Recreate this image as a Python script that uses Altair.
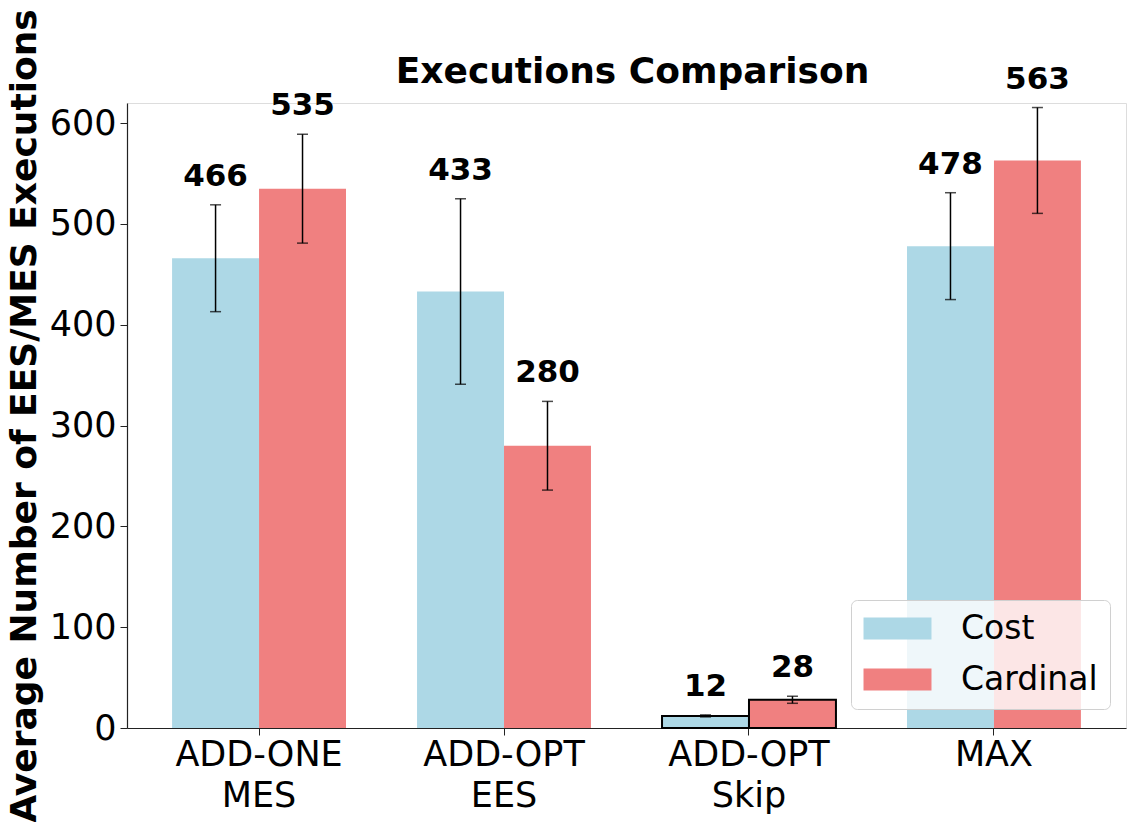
import altair as alt
import pandas as pd

categories = ["ADD-ONE\nMES", "ADD-OPT\nEES", "ADD-OPT\nSkip", "MAX"]
series = ["Cost", "Cardinal"]
cost_values = [466, 433, 12, 478]
cost_errors = [53, 92, 1, 53]
cardinal_values = [535, 280, 28, 563]
cardinal_errors = [54, 44, 3.5, 52.5]
colors = ["#ADD8E6", "#F08080"]
outlined_category = "ADD-OPT\nSkip"

rows = []
for i, c in enumerate(categories):
    for s, vals, errs in (("Cost", cost_values, cost_errors), ("Cardinal", cardinal_values, cardinal_errors)):
        v = vals[i]
        e = errs[i]
        rows.append({"category": c, "series": s, "value": v, "lo": v - e, "hi": v + e,
                     "label": str(v), "outlined": c == outlined_category})
df = pd.DataFrame(rows)

FONT = "DejaVu Sans"

x_enc = alt.X("category:N", sort=categories,
              scale=alt.Scale(paddingInner=0.29, paddingOuter=0.184),
              axis=alt.Axis(title=None, labelAngle=0, labelFontSize=35, labelFont=FONT,
                            labelColor="black", labelPadding=2, labelLineHeight=41,
                            labelExpr="split(datum.label, '\\n')",
                            tickColor="#222", tickSize=7, domainColor="#222", domainWidth=1.2))
xoff = alt.XOffset("series:N", sort=series, scale=alt.Scale(paddingInner=0, paddingOuter=0))
y_scale = alt.Scale(domain=[0, 620], nice=False)

bars = alt.Chart(df).mark_bar().encode(
    x=x_enc,
    xOffset=xoff,
    y=alt.Y("value:Q", scale=y_scale,
            axis=alt.Axis(title="Average Number of EES/MES Executions", values=[0, 100, 200, 300, 400, 500, 600],
                          grid=False, labelFontSize=35, labelFont=FONT, labelColor="black",
                          labelPadding=4, tickColor="#222", tickSize=7, domainColor="#222",
                          domainWidth=1.2, titleFontSize=36, titleFont=FONT, titleFontWeight="bold",
                          titleColor="black", titlePadding=6)),
    color=alt.Color("series:N", sort=series,
                    scale=alt.Scale(domain=series, range=colors),
                    legend=alt.Legend(title=None, orient="none", legendX=724, legendY=497,
                                      labelFontSize=33, labelFont=FONT, labelColor="black",
                                      symbolType="M-3.09,-1L3.09,-1L3.09,1L-3.09,1Z",
                                      symbolSize=484, symbolStrokeWidth=0, symbolOffset=18,
                                      labelOffset=47, rowPadding=17, padding=12,
                                      fillColor="rgba(255,255,255,0.8)",
                                      strokeColor="#d0d0d0", cornerRadius=6, symbolOpacity=1)),
    stroke=alt.condition("datum.outlined", alt.value("black"), alt.value(None)),
    strokeWidth=alt.condition("datum.outlined", alt.value(2), alt.value(0)),
)

rules = alt.Chart(df).mark_rule(color="black", strokeWidth=1.5).encode(
    x=alt.X("category:N", sort=categories),
    xOffset=xoff,
    y=alt.Y("lo:Q", scale=y_scale),
    y2="hi:Q",
)

caps_lo = alt.Chart(df).mark_tick(color="black", thickness=1.5, size=11).encode(
    x=alt.X("category:N", sort=categories),
    xOffset=xoff,
    y=alt.Y("lo:Q", scale=y_scale),
)
caps_hi = alt.Chart(df).mark_tick(color="black", thickness=1.5, size=11).encode(
    x=alt.X("category:N", sort=categories),
    xOffset=xoff,
    y=alt.Y("hi:Q", scale=y_scale),
)

labels = alt.Chart(df).mark_text(fontSize=31, font=FONT, fontWeight="bold", color="black",
                                 baseline="alphabetic", dy=-19).encode(
    x=alt.X("category:N", sort=categories),
    xOffset=xoff,
    y=alt.Y("hi:Q", scale=y_scale),
    text="label:N",
)

chart = alt.layer(bars, rules, caps_lo, caps_hi, labels).properties(
    width=999, height=625,
    title=alt.Title("Executions Comparison", fontSize=36, font=FONT, fontWeight="bold",
                    color="black", offset=-110, baseline="alphabetic", dx=6),
    autosize=alt.AutoSizeParams(type="none"),
    padding={"left": 119, "top": 95, "right": 2, "bottom": 94},
).configure_view(stroke="#222", strokeWidth=1.2).configure(background="white")

chart.save("out.html", embed_options={"renderer": "svg", "actions": False})
